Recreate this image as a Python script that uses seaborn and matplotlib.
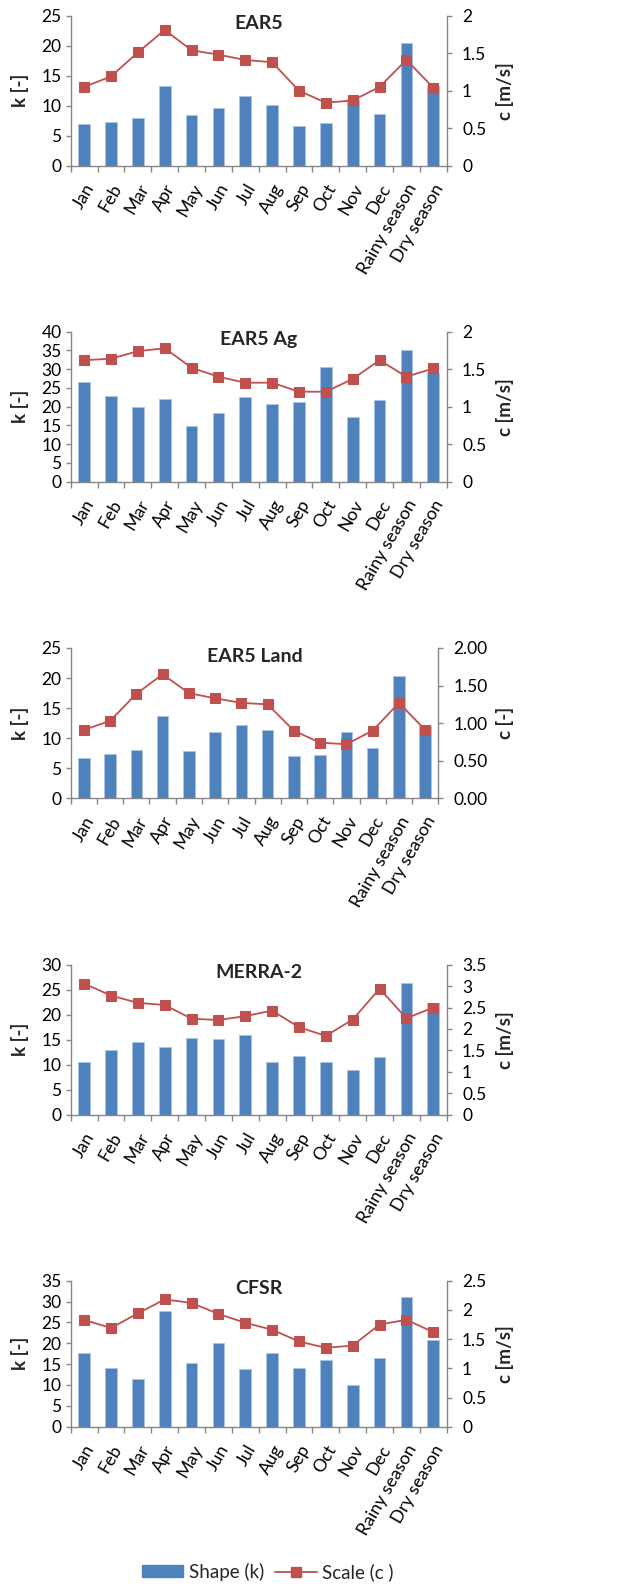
import numpy as np
import pandas as pd
import matplotlib
matplotlib.use("Agg")
import matplotlib.pyplot as plt
from matplotlib.ticker import FixedLocator, FormatStrFormatter, MultipleLocator
from matplotlib.lines import Line2D
from matplotlib.patches import Patch
import seaborn as sns

# ---- data -------------------------------------------------------------
categories = ["Jan", "Feb", "Mar", "Apr", "May", "Jun", "Jul", "Aug",
              "Sep", "Oct", "Nov", "Dec", "Rainy season", "Dry season"]

titles = ["EAR5", "EAR5 Ag", "EAR5 Land", "MERRA-2", "CFSR"]
right_labels = ["c [m/s]", "c [m/s]", "c [-]", "c [m/s]", "c [m/s]"]

k_ear5 = [6.9, 7.3, 7.9, 13.3, 8.4, 9.7, 11.7, 10.2, 6.6, 7.2, 11.1, 8.6, 20.4, 13.3]
c_ear5 = [1.05, 1.19, 1.51, 1.81, 1.54, 1.48, 1.41, 1.38, 1.00, 0.84, 0.87, 1.05, 1.41, 1.04]

k_ag = [26.5, 22.8, 20.0, 22.0, 14.8, 18.2, 22.6, 20.6, 21.3, 30.6, 17.2, 21.8, 35.0, 28.9]
c_ag = [1.62, 1.64, 1.74, 1.78, 1.52, 1.40, 1.32, 1.32, 1.20, 1.20, 1.37, 1.62, 1.40, 1.51]

k_land = [6.7, 7.4, 8.0, 13.7, 7.9, 11.1, 12.2, 11.3, 7.1, 7.2, 11.0, 8.4, 20.4, 12.0]
c_land = [0.91, 1.03, 1.39, 1.65, 1.40, 1.33, 1.27, 1.25, 0.90, 0.74, 0.72, 0.90, 1.27, 0.91]

k_merra = [10.6, 12.9, 14.6, 13.5, 15.3, 15.1, 16.0, 10.5, 11.7, 10.5, 8.9, 11.6, 26.3, 22.3]
c_merra = [3.06, 2.78, 2.61, 2.56, 2.24, 2.21, 2.30, 2.43, 2.04, 1.84, 2.22, 2.94, 2.25, 2.50]

k_cfsr = [17.7, 14.1, 11.4, 27.7, 15.3, 20.0, 13.8, 17.7, 14.1, 16.1, 9.9, 16.5, 31.0, 20.8]
c_cfsr = [1.83, 1.69, 1.94, 2.18, 2.12, 1.93, 1.78, 1.66, 1.46, 1.35, 1.39, 1.75, 1.83, 1.62]

k_series = [k_ear5, k_ag, k_land, k_merra, k_cfsr]
c_series = [c_ear5, c_ag, c_land, c_merra, c_cfsr]

k_max = [25, 40, 25, 30, 35]
k_step = [5, 5, 5, 5, 5]
c_max = [2, 2, 2, 3.5, 2.5]
c_step = [0.5, 0.5, 0.5, 0.5, 0.5]
c_fmt = ["%g", "%g", "%.2f", "%g", "%g"]

# ---- styling ----------------------------------------------------------
sns.set_theme(style="white")
plt.rcParams["font.family"] = ["Lato", "DejaVu Sans"]

BLUE = "#4F81BD"
RED = "#C0504D"
AXIS = "#868686"

TICK_FS = 12.5
XLAB_FS = 12.8
LABEL_FS = 13.5
TITLE_FS = 14

W, H = 620, 1584
fig = plt.figure(figsize=(W / 100, H / 100), dpi=100)

# axes boxes in pixels: (left, right, top, bottom)
boxes = [
    (70.7, 446.7, 15.7, 165.7),
    (70.7, 446.7, 331.7, 481.7),
    (70.7, 438.3, 648.0, 798.3),
    (70.7, 446.7, 964.7, 1114.7),
    (70.7, 446.7, 1280.7, 1426.7),
]

x_pos = np.arange(len(categories))

for i, (l, r, t, b) in enumerate(boxes):
    ax = fig.add_axes([l / W, 1 - b / H, (r - l) / W, (b - t) / H])
    df = pd.DataFrame({"cat": categories, "k": k_series[i], "c": c_series[i], "x": x_pos})

    sns.barplot(data=df, x="cat", y="k", ax=ax, color=BLUE, width=0.44,
                saturation=1, edgecolor="#A9C4E6", linewidth=0.6)
    ax.set_xlim(-0.5, len(categories) - 0.5)
    ax.set_ylim(0, k_max[i])
    ax.yaxis.set_major_locator(MultipleLocator(k_step[i]))

    ax2 = ax.twinx()
    sns.lineplot(data=df, x="x", y="c", ax=ax2, color=RED, marker="s",
                 markersize=6.5, markeredgecolor=RED, markerfacecolor=RED,
                 linewidth=1.3, sort=False)
    ax2.set_ylim(0, c_max[i])
    ax2.yaxis.set_major_locator(MultipleLocator(c_step[i]))
    ax2.yaxis.set_major_formatter(FormatStrFormatter(c_fmt[i]))
    ax.set_xlim(-0.5, len(categories) - 0.5)

    # spines
    for a in (ax, ax2):
        for s in a.spines.values():
            s.set_visible(False)
    ax.spines["left"].set_visible(True)
    ax.spines["bottom"].set_visible(True)
    ax2.spines["right"].set_visible(True)
    for a, side in ((ax, "left"), (ax, "bottom"), (ax2, "right")):
        a.spines[side].set_color(AXIS)
        a.spines[side].set_linewidth(1.0)

    # x ticks: labels at categories, tick marks at category boundaries
    ax.set_xticks(x_pos)
    ax.set_xticklabels(categories, rotation=60, ha="right", rotation_mode="anchor")
    ax.xaxis.set_minor_locator(FixedLocator(np.arange(-0.5, len(categories), 1.0)))
    ax.tick_params(axis="x", which="major", length=0, pad=11, labelsize=XLAB_FS,
                   colors="black")
    ax.tick_params(axis="x", which="minor", length=4.3, width=1.0, color=AXIS,
                   direction="out", bottom=True)
    ax.tick_params(axis="y", which="major", length=3.6, width=1.0, color=AXIS,
                   direction="out", left=True, labelsize=TICK_FS, pad=3,
                   labelcolor="black")
    ax2.tick_params(axis="y", which="major", length=3.6, width=1.0, color=AXIS,
                    direction="out", right=True, labelsize=TICK_FS, pad=7.5,
                    labelcolor="black")

    ax.set_xlabel("")
    ax.set_ylabel("k [-]", fontsize=LABEL_FS, fontweight="bold")
    ax.yaxis.set_label_coords((20 - l) / (r - l), 0.5)
    ax2.set_xlabel("")
    ax2.set_ylabel(right_labels[i], fontsize=LABEL_FS, fontweight="bold")
    ax2.yaxis.set_label_coords((505 - l) / (r - l), 0.5)
    ax2.yaxis.label.set_rotation(90)
    ax2.yaxis.label.set_va("center")
    ax.yaxis.label.set_va("center")

    ax.text(0.5, 1 - 8 / (b - t), titles[i], transform=ax.transAxes,
            ha="center", va="center", fontsize=TITLE_FS, fontweight="bold")

    ax.patch.set_visible(False)
    ax2.patch.set_visible(False)

handles = [
    Patch(facecolor=BLUE, edgecolor=BLUE, label="Shape (k)"),
    Line2D([], [], color=RED, marker="s", markersize=6.5, linewidth=1.3,
           label="Scale (c )"),
]
fig.legend(handles=handles, loc="center", bbox_to_anchor=(0.432, 1 - 1572 / H),
           ncol=2, frameon=False, fontsize=LABEL_FS, handlelength=2.2,
           handleheight=0.6, columnspacing=0.6, handletextpad=0.3,
           borderpad=0.1)

fig.savefig("out.png", dpi=100)
